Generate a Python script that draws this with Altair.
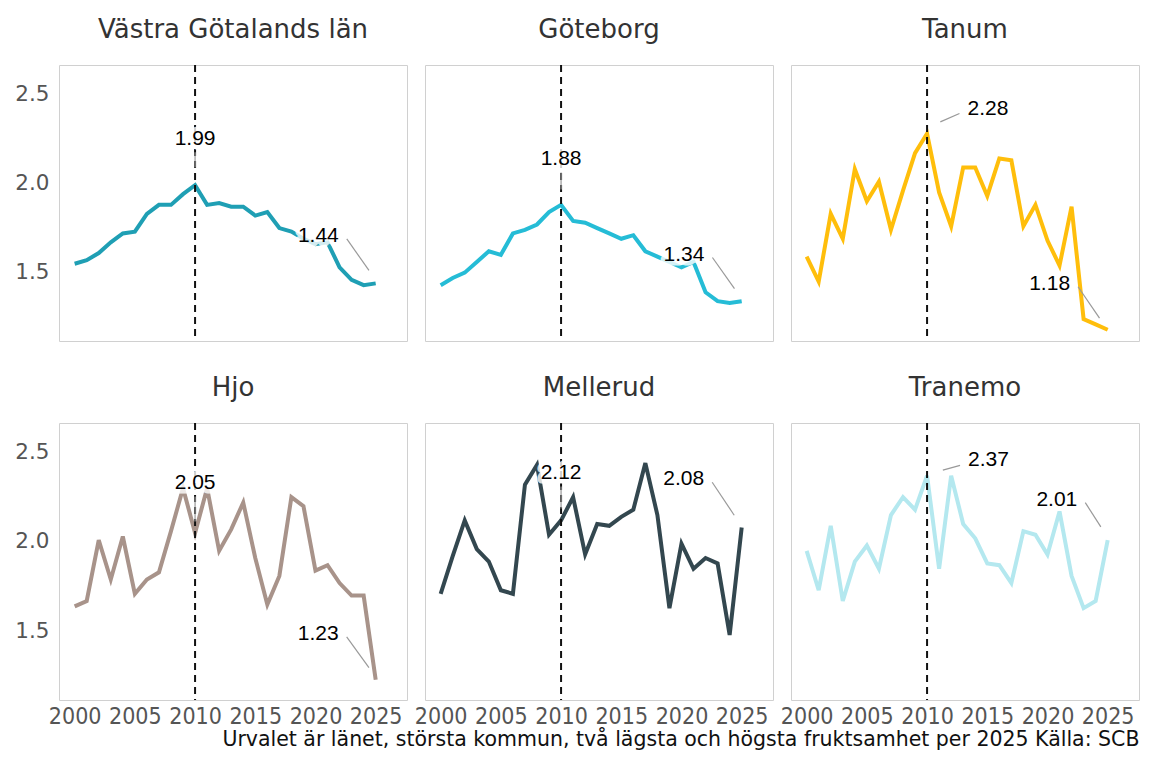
import altair as alt
import pandas as pd

years = list(range(2000, 2026))
reference_year = 2010
regions = ["Västra Götalands län", "Göteborg", "Tanum", "Hjo", "Mellerud", "Tranemo"]
colors = ["#1F9FB4", "#25BCD6", "#FFBE0B", "#A8938A", "#33474F", "#B4E8EF"]

vastra_gotaland = [1.55, 1.57, 1.61, 1.67, 1.72, 1.73, 1.83, 1.88, 1.88, 1.94, 1.99, 1.88, 1.89,
                   1.87, 1.87, 1.82, 1.84, 1.75, 1.73, 1.69, 1.66, 1.67, 1.53, 1.46, 1.43, 1.44]
goteborg = [1.43, 1.47, 1.50, 1.56, 1.62, 1.60, 1.72, 1.74, 1.77, 1.84, 1.88, 1.79, 1.78,
            1.75, 1.72, 1.69, 1.71, 1.62, 1.59, 1.56, 1.53, 1.56, 1.39, 1.34, 1.33, 1.34]
tanum = [1.59, 1.45, 1.83, 1.69, 2.08, 1.90, 2.01, 1.74, 1.96, 2.17, 2.28, 1.95, 1.76,
         2.09, 2.09, 1.93, 2.14, 2.13, 1.76, 1.88, 1.68, 1.54, 1.87, 1.24, 1.21, 1.18]
hjo = [1.64, 1.67, 2.01, 1.79, 2.03, 1.71, 1.79, 1.83, 2.06, 2.30, 2.05, 2.30, 1.95,
       2.07, 2.22, 1.91, 1.65, 1.81, 2.25, 2.20, 1.84, 1.87, 1.77, 1.70, 1.70, 1.23]
mellerud = [1.71, 1.92, 2.12, 1.96, 1.89, 1.73, 1.71, 2.32, 2.43, 2.04, 2.12, 2.25, 1.93,
            2.10, 2.09, 2.14, 2.18, 2.44, 2.15, 1.63, 1.99, 1.85, 1.91, 1.88, 1.48, 2.08]
tranemo = [1.95, 1.73, 2.09, 1.67, 1.89, 1.98, 1.85, 2.15, 2.25, 2.18, 2.37, 1.85, 2.37,
           2.10, 2.02, 1.88, 1.87, 1.77, 2.06, 2.04, 1.93, 2.17, 1.81, 1.63, 1.67, 2.01]
series = [vastra_gotaland, goteborg, tanum, hjo, mellerud, tranemo]

x_ticks = [2000, 2005, 2010, 2015, 2020, 2025]
y_ticks = [1.5, 2.0, 2.5]

# Annotations: region, label text, leader start (label side) and leader end (data units)
ann_region = ["Västra Götalands län", "Västra Götalands län", "Göteborg", "Göteborg",
              "Tanum", "Tanum", "Hjo", "Hjo", "Mellerud", "Mellerud", "Tranemo", "Tranemo"]
ann_text = ["1.99", "1.44", "1.88", "1.34", "2.28", "1.18", "2.05", "1.23", "2.12", "2.08", "2.37", "2.01"]
ann_side = ["top", "left", "top", "left", "right", "left", "top", "left", "top", "left", "right", "left"]
ann_start_year = [2010, 2022.6, 2010, 2022.57, 2012.69, 2022.54, 2010, 2022.59, 2010, 2022.55, 2012.74, 2023.14]
ann_start_value = [2.175, 1.689, 2.062, 1.585, 2.392, 1.421, 2.254, 1.47, 2.31, 2.333, 2.427, 2.219]
ann_end_year = [2010, 2024.44, 2010, 2024.4, 2011.1, 2024.32, 2010, 2024.44, 2010, 2024.38, 2011.31, 2024.43]
ann_end_value = [2.09, 1.513, 1.966, 1.411, 2.345, 1.245, 2.114, 1.298, 2.187, 2.149, 2.401, 2.084]

footnote = "Urvalet är länet, största kommun, två lägsta och högsta fruktsamhet per 2025 Källa: SCB"

df = pd.DataFrame([
    {"region": r, "year": y, "value": v}
    for r, vals in zip(regions, series) for y, v in zip(years, vals)
])
ann = pd.DataFrame({
    "region": ann_region, "text": ann_text, "side": ann_side,
    "sx": ann_start_year, "sy": ann_start_value, "ex": ann_end_year, "ey": ann_end_value,
})
ref = pd.DataFrame({"year": [reference_year]})

XDOM = [1998.7, 2027.6]
YDOM = [1.117, 2.664]
xscale = alt.Scale(domain=XDOM, nice=False, zero=False)
yscale = alt.Scale(domain=YDOM, nice=False, zero=False)

side_style = {
    "top": dict(align="center", baseline="alphabetic", dx=0, dy=-7),
    "left": dict(align="right", baseline="middle", dx=-8, dy=-3),
    "right": dict(align="left", baseline="middle", dx=8, dy=-5),
}

PW = 348


def panel(i):
    r = regions[i]
    col = i % 3
    bottom = i >= 3
    xaxis = alt.Axis(values=x_ticks, format="d", labelOverlap=False, labelFlush=False,
                     labelPadding=5, labelFont="DejaVu Sans Condensed", labelFontSize=23) if bottom else None
    yaxis = alt.Axis(values=y_ticks, format=".1f", labelOverlap=False, labelFlush=False,
                     labelPadding=10, labelFont="DejaVu Sans", labelFontSize=21.5) if col == 0 else None

    def X(field):
        return alt.X(field, scale=xscale, axis=xaxis, title=None)

    def Y(field):
        return alt.Y(field, scale=yscale, axis=yaxis, title=None)

    line = alt.Chart(df[df.region == r]).mark_line(strokeWidth=4, color=colors[i]).encode(
        x=X("year:Q"), y=Y("value:Q"),
    )
    rule = alt.Chart(ref).mark_rule(strokeDash=[7, 5], strokeWidth=2, color="#111").encode(
        x=X("year:Q")
    )
    a = ann[ann.region == r]
    leader = alt.Chart(a).mark_rule(color="#999", strokeWidth=1.2).encode(
        x=X("sx:Q"), x2="ex:Q", y=Y("sy:Q"), y2="ey:Q",
    )
    layers = [line, rule, leader]
    halos, texts = [], []
    for side, st in side_style.items():
        sub = a[a.side == side]
        if len(sub) == 0:
            continue
        enc = dict(x=X("sx:Q"), y=Y("sy:Q"), text="text:N")
        halos.append(alt.Chart(sub).mark_text(font="Liberation Sans", fontSize=21, color="white",
                                              stroke="white", strokeWidth=9, strokeJoin="round",
                                              opacity=0.8, **st).encode(**enc))
        texts.append(alt.Chart(sub).mark_text(font="Liberation Sans", fontSize=21,
                                              color="black", **st).encode(**enc))
    layers += halos + texts
    return alt.layer(*layers).properties(width=PW, height=276 if not bottom else 277, title=r)


row1 = alt.hconcat(*[panel(i) for i in range(3)], spacing=18, bounds="flush")
row2 = alt.hconcat(*[panel(i) for i in range(3, 6)], spacing=18, bounds="flush")

chart = alt.vconcat(row1, row2, spacing=31).properties(
    title=alt.TitleParams(footnote, orient="bottom", anchor="end", font="DejaVu Sans",
                          fontSize=20.5, fontWeight="normal", color="#111", offset=1),
    padding={"left": 6, "top": 8, "right": 0, "bottom": 0},
).configure_view(stroke="#d0d0d0", strokeWidth=1).configure_axis(
    grid=False, domain=False, ticks=False, labelColor="#555555"
).configure_title(
    font="DejaVu Sans", fontSize=26, fontWeight="normal", color="#333333", offset=21
)

chart.save("out.html", embed_options={"renderer": "svg", "actions": False})
